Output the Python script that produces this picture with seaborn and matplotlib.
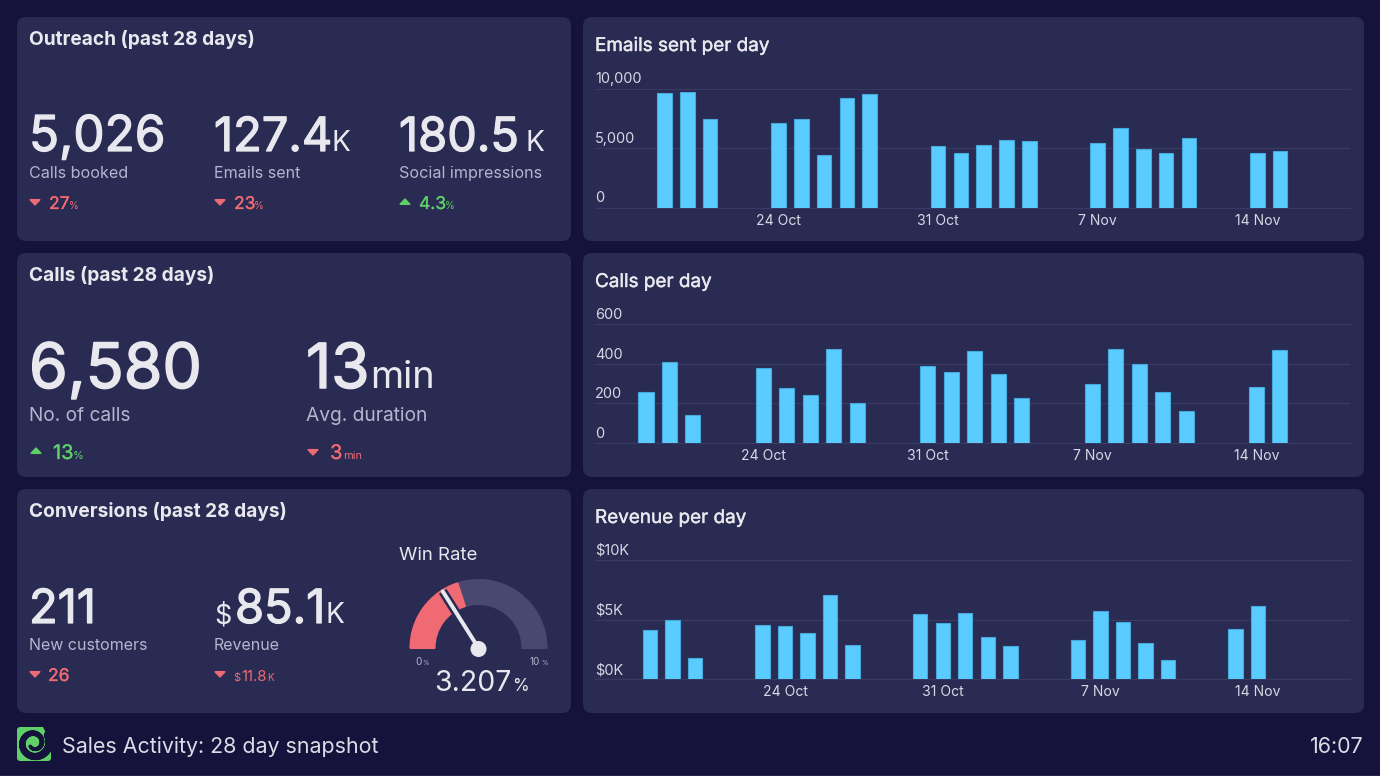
import numpy as np
import pandas as pd
import seaborn as sns
import matplotlib
matplotlib.use("Agg")
import matplotlib.pyplot as plt
import matplotlib.patheffects as pe
from matplotlib.patches import FancyBboxPatch, Wedge, Polygon, Circle
from matplotlib.collections import LineCollection

# ---------- data ----------
weekdays = [0, 1, 2, 5, 6, 7, 8, 9, 12, 13, 14, 15, 16, 19, 20, 21, 22, 23, 26, 27]
emails = [9650, 9730, 7410, 7130, 7410, 4400, 9230, 9540, 5200, 4600, 5250, 5650, 5550,
          5400, 6650, 4950, 4550, 5800, 4600, 4750]
calls = [255, 410, 140, 380, 275, 240, 475, 200, 390, 360, 465, 350, 225,
         295, 475, 400, 255, 160, 280, 470]
revenue = [4100, 4950, 1750, 4500, 4450, 3900, 7100, 2850, 5500, 4700, 5550, 3500, 2750,
           3250, 5700, 4800, 3000, 1600, 4200, 6100]
date_labels = ["24 Oct", "31 Oct", "7 Nov", "14 Nov"]
date_ticks_std = [5, 12, 19, 26]
date_ticks_rev = [6, 13, 20, 27]
win_rate = 3.207
win_threshold = 4.0
win_max = 10.0

# ---------- style ----------
BG = "#15123b"
PANEL = "#2a2b52"
WHITE = "#e8e8ee"
SUB = "#b4b6cf"
AXT = "#d6d7e4"
RED = "#ef6a72"
GREEN = "#5fd068"
BAR = "#5accff"
BAR_EDGE = "#45a9dc"
GRID = "#393a62"
TRACK = "#49496f"
W, H = 1380, 776
PT = 0.72

sns.set_theme(style="dark")
plt.rcParams["font.family"] = ["Inter", "DejaVu Sans"]

fig = plt.figure(figsize=(W / 100, H / 100), dpi=100, facecolor=BG)
bgax = fig.add_axes([0, 0, 1, 1], zorder=0)
bgax.set_xlim(0, W)
bgax.set_ylim(H, 0)
bgax.axis("off")
ov = fig.add_axes([0, 0, 1, 1], zorder=5)
ov.set_xlim(0, W)
ov.set_ylim(H, 0)
ov.axis("off")
ov.patch.set_alpha(0)


def panel(x0, y0, x1, y1):
    r = 9
    bgax.add_patch(FancyBboxPatch((x0 + r, y0 + r), x1 - x0 - 2 * r, y1 - y0 - 2 * r,
                                  boxstyle=f"round,pad={r},rounding_size={r}",
                                  fc=PANEL, ec="none"))


def txt(x, y, s, px, color=WHITE, weight="normal", ha="left", heavy=0.0):
    t = ov.text(x, y, s, fontsize=px * PT, color=color, fontweight=weight, ha=ha, va="baseline")
    if heavy:
        t.set_path_effects([pe.withStroke(linewidth=heavy, foreground=color)])


def tri(x, y, up, color):
    s = -1 if up else 1
    ov.add_patch(Polygon([(x - 4.7, y - s * 2.2), (x + 4.7, y - s * 2.2), (x, y + s * 2.8)], closed=True,
                         fc=color, ec=color, lw=1.2, joinstyle="round"))


for y0, y1 in [(17, 241), (253, 477), (489, 713)]:
    panel(17, y0, 571, y1)
    panel(583, y0, 1364, y1)
bgax.plot([0, W], [775.5, 775.5], color="#6a6a80", lw=1)

# ---------- left panels ----------
txt(29, 45, "Outreach (past 28 days)", 19.1, weight="bold")
for x, big, bpx, ux, label, up, delta, pctx in [
    (29, "5,026", 49.5, 0, "Calls booked", False, "27", 69),
    (214, "127.4", 47, 331, "Emails sent", False, "23", 254),
    (399, "180.5", 47, 525, "Social impressions", True, "4.3", 445),
]:
    txt(x, 151, big, bpx, heavy=0.9)
    if ux:
        txt(ux, 151, "K", 28)
    txt(x, 178, label, 16.1, color=SUB)
    col = GREEN if up else RED
    tri(x + 6, 202, up, col)
    txt(x + 20, 209, delta, 17.5, color=col, heavy=0.2)
    txt(pctx, 209, "%", 10, color=col)

txt(29, 281, "Calls (past 28 days)", 19.1, weight="bold")
txt(29, 388, "6,580", 62.5, heavy=1.1)
txt(306, 388, "13", 62, heavy=1.1)
txt(370, 388, "min", 38)
txt(29, 421, "No. of calls", 19.1, color=SUB)
txt(306, 421, "Avg. duration", 19.2, color=SUB)
tri(36, 451, True, GREEN)
txt(53, 459, "13", 20, color=GREEN, heavy=0.2)
txt(73, 459, "%", 11, color=GREEN)
tri(313, 452, False, RED)
txt(330, 459, "3", 20, color=RED, heavy=0.2)
txt(343, 459, "min", 11, color=RED)

txt(29, 517, "Conversions (past 28 days)", 19.1, weight="bold")
txt(29, 623, "211", 47, heavy=0.9)
txt(214, 623, "$", 27)
txt(235, 623, "85.1", 47, heavy=0.9)
txt(326, 623, "K", 28)
txt(29, 650, "New customers", 16, color=SUB)
txt(214, 650, "Revenue", 16, color=SUB)
tri(35, 674, False, RED)
txt(48, 681, "26", 17.5, color=RED, heavy=0.2)
tri(220, 674, False, RED)
txt(233, 681, "$", 11, color=RED)
txt(241, 681, "11.8", 15, color=RED)
txt(267, 681, "K", 10, color=RED)

# ---------- gauge ----------
cx, cy, ro, ri = 478.5, 648, 68, 44
to_deg = lambda v: 180 + 180 * v / win_max
ov.add_patch(Wedge((cx, cy), ro, to_deg(win_threshold), 360, width=ro - ri, fc=TRACK, ec=TRACK,
                   lw=1.5, joinstyle="round"))
ov.add_patch(Wedge((cx, cy), ro, 180, to_deg(win_threshold), width=ro - ri, fc=RED, ec=RED,
                   lw=1.5, joinstyle="round"))
a = np.deg2rad(to_deg(win_rate))
nx, ny = cx + 67 * np.cos(a), cy + 67 * np.sin(a)
ov.plot([cx, nx], [cy, ny], color=PANEL, lw=9 * PT, solid_capstyle="butt")
ov.plot([cx, nx], [cy, ny], color=WHITE, lw=4 * PT, solid_capstyle="round")
ov.add_patch(Circle((cx, cy + 1), 8, fc=WHITE, ec="none", zorder=4))
txt(415, 665, "0", 10, color=SUB)
txt(422, 665, "%", 6.5, color=SUB)
txt(529, 665, "10", 10, color=SUB)
txt(541, 665, "%", 6.5, color=SUB)
txt(434, 691, "3.207", 28.5)
txt(512, 691, "%", 17)
txt(399, 560, "Win Rate", 18.6)

# ---------- bar charts ----------
charts = [
    ("Emails sent per day", emails, 664.5, 22.8, 88.5, 207.5, 10000, [0, 5000, 10000],
     ["0", "5,000", "10,000"], 51, date_ticks_std),
    ("Calls per day", calls, 646, 23.48, 324, 443, 600, [0, 200, 400, 600],
     ["0", "200", "400", "600"], 287, date_ticks_std),
    ("Revenue per day", revenue, 650, 22.52, 560, 679, 10000, [0, 5000, 10000],
     ["$0K", "$5K", "$10K"], 523, date_ticks_rev),
]
AX0, AX1 = 595, 1350
for title, vals, first, step, top, bottom, ymax, yt, ytl, ty, ticks in charts:
    ax = fig.add_axes([AX0 / W, 1 - bottom / H, (AX1 - AX0) / W, (bottom - top) / H], zorder=2)
    ax.patch.set_alpha(0)
    df = pd.DataFrame({"day": weekdays, "value": vals})
    sns.barplot(data=df, x="day", y="value", native_scale=True, width=0.64, color=BAR,
                saturation=1, edgecolor=BAR_EDGE, linewidth=0.8, ax=ax, zorder=3)
    ax.set_xlim((AX0 - first) / step, (AX1 - first) / step)
    ax.set_ylim(0, ymax)
    ax.set_xlabel("")
    ax.set_ylabel("")
    ax.set_yticks(yt)
    ax.set_yticklabels([])
    ax.set_xticks(ticks)
    ax.set_xticklabels(date_labels, color=AXT, fontsize=14 * PT)
    ax.tick_params(axis="x", length=0, pad=4.5)
    ax.tick_params(axis="y", length=0)
    ax.grid(axis="y", color=GRID, lw=1)
    ax.grid(axis="x", visible=False)
    ax.set_axisbelow(True)
    for s in ax.spines.values():
        s.set_visible(False)
    for side in ("top", "bottom"):
        ax.spines[side].set_visible(True)
        ax.spines[side].set_color(GRID)
        ax.spines[side].set_linewidth(0.8)
    for v, lab in zip(yt, ytl):
        py = bottom - (bottom - top) * v / ymax
        txt(AX0, py - 5, lab, 14.5, color=AXT)
    txt(595, ty, title, 18.9, heavy=0.3)

# ---------- footer ----------
ov.add_patch(FancyBboxPatch((19, 729), 30, 30, boxstyle="round,pad=2,rounding_size=3", fc=GREEN, ec="none"))
ov.add_patch(Polygon([(42, 725), (53, 725), (53, 739), (49, 739)], closed=True, fc=BG, ec="none"))
theta = np.deg2rad(np.linspace(-30, 500, 120))
frac = np.linspace(0, 1, 120)
rad = 16 - 11 * frac
sx = 34 + rad * np.cos(theta)
sy = 743 + rad * np.sin(theta)
pts = np.column_stack([sx, sy])
segs = np.stack([pts[:-1], pts[1:]], axis=1)
widths = (7.5 - 4.5 * frac[:-1]) * PT * 1.1
ov.add_collection(LineCollection(segs, colors=BG, linewidths=widths, capstyle="round"))
txt(62, 753, "Sales Activity: 28 day snapshot", 21.4, color="#dcdce6")
txt(1364, 753, "16:07", 21.4, color="#dcdce6", ha="right")

fig.savefig("out.png", dpi=100, facecolor=BG)
